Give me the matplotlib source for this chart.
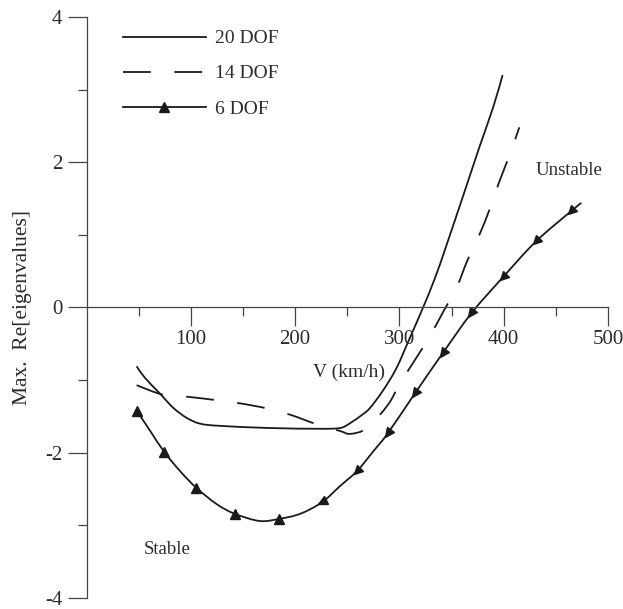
import matplotlib
matplotlib.use("Agg")
import matplotlib.pyplot as plt
import numpy as np
from matplotlib.markers import MarkerStyle
from matplotlib.transforms import Affine2D
from matplotlib.lines import Line2D
from matplotlib.path import Path
from matplotlib.patches import PathPatch

plt.rcParams['font.family'] = ['Liberation Serif', 'DejaVu Serif']
plt.rcParams['axes.unicode_minus'] = False
plt.rcParams['lines.scale_dashes'] = False

# max real part of the eigenvalues vs. speed, three model sizes
v_20 = [48, 56, 70, 83, 96, 109, 128, 176, 224, 243, 252, 265, 272, 284, 297,
        310, 323, 334, 345, 364, 377, 390, 399]
re_20 = [-0.81, -0.97, -1.18, -1.38, -1.52, -1.60, -1.63, -1.66, -1.67, -1.66,
         -1.60, -1.47, -1.38, -1.15, -0.84, -0.42, 0.01, 0.40, 0.85, 1.66, 2.22,
         2.76, 3.20]

v_14 = [48, 73, 97, 121, 147, 173, 196, 221, 243, 253, 269, 289, 300, 315,
        329, 342, 355, 365, 377, 387, 396, 406, 415]
re_14 = [-1.07, -1.20, -1.23, -1.27, -1.32, -1.39, -1.48, -1.61, -1.70, -1.74,
         -1.66, -1.34, -1.06, -0.72, -0.40, -0.06, 0.28, 0.64, 1.01, 1.37, 1.74,
         2.11, 2.48]

v_6 = [48.5, 61, 74.5, 89.5, 105, 125, 142, 166, 185, 205, 226, 243, 259.5,
       275, 289, 315, 342, 369, 399.5, 431, 465, 474.5]
re_6 = [-1.43, -1.70, -1.99, -2.25, -2.48, -2.71, -2.84, -2.94, -2.91, -2.84,
        -2.68, -2.46, -2.25, -1.98, -1.73, -1.18, -0.62, -0.08, 0.42, 0.91,
        1.33, 1.44]
marks_6 = [0, 2, 4, 6, 8, 10, 12, 14, 15, 16, 17, 18, 19, 20]

labels = ['20 DOF', '14 DOF', '6 DOF']

ink = '#1a1a1a'
txt = '#2b2b2b'
fs = 14
dash = (0, (20, 17))


def smooth_path(x, y):
    # cubic bezier pieces through every point (catmull-rom tangents)
    p = np.column_stack([x, y]).astype(float)
    ext = np.vstack([p[0], p, p[-1]])
    verts = [p[0]]
    codes = [Path.MOVETO]
    for i in range(len(p) - 1):
        p0, p1, p2, p3 = ext[i], ext[i + 1], ext[i + 2], ext[i + 3]
        verts += [p1 + (p2 - p0) / 6, p2 - (p3 - p1) / 6, p2]
        codes += [Path.CURVE4] * 3
    return Path(verts, codes)


fig = plt.figure(figsize=(6.23, 6.09), dpi=100)
ax = fig.add_axes([0.139, 0.0181, 0.8368, 0.954])
ax.set_xlim(0, 500)
ax.set_ylim(-4, 4)

ax.add_patch(PathPatch(smooth_path(v_20, re_20), fill=False, ec=ink, lw=1.3))
ax.add_patch(PathPatch(smooth_path(v_14, re_14), fill=False, ec=ink, lw=1.3,
                       linestyle=dash))
ax.add_patch(PathPatch(smooth_path(v_6, re_6), fill=False, ec=ink, lw=1.3))

# triangles on the 6 DOF curve; on the rising branch they point back along the line
pts = ax.transData.transform(np.column_stack([v_6, re_6]))
prev_y = None
for i in marks_6:
    rot = 0
    if prev_y is not None and re_6[i] > prev_y:
        d = pts[i - 1] - pts[i]
        rot = np.degrees(np.arctan2(d[1], d[0])) - 90
    prev_y = re_6[i]
    m = MarkerStyle('^', transform=Affine2D().rotate_deg(rot))
    ax.plot(v_6[i], re_6[i], linestyle='none', marker=m, ms=6.5,
            color=ink, mec=ink)

for s in ['top', 'right']:
    ax.spines[s].set_visible(False)
ax.spines['bottom'].set_position(('data', 0))
for s in ['left', 'bottom']:
    ax.spines[s].set_color('#444444')
    ax.spines[s].set_linewidth(0.9)

ax.set_xticks([100, 200, 300, 400, 500])
ax.set_xticks([50, 150, 250, 350, 450], minor=True)
ax.set_yticks([-4, -2, 0, 2, 4])
ax.set_yticks([-3, -1, 1, 3], minor=True)
ax.tick_params(which='major', length=13.5, width=0.9, color='#444444',
               labelsize=15, labelcolor=txt, pad=4)
ax.tick_params(which='minor', length=6.8, width=0.9, color='#444444')
ax.tick_params(axis='x', which='major', pad=3)

ax.set_xlabel('V (km/h)', fontsize=fs, color=txt)
ax.xaxis.set_label_coords(0.503, 0.404)
ax.set_ylabel('Max.  Re[eigenvalues]', fontsize=15.5, color=txt)
ax.yaxis.set_label_coords(-0.105, 0.5)

ax.text(463, 1.88, 'Unstable', fontsize=13.5, color=txt, ha='center', va='center')
ax.text(77.5, -3.33, 'Stable', fontsize=13.5, color=txt, ha='center', va='center')

handles = [
    Line2D([], [], color=ink, lw=1.3),
    Line2D([], [], color=ink, lw=1.3, linestyle=dash),
    Line2D([], [], color=ink, lw=1.3, marker='^', ms=6.5),
]
ax.legend(handles, labels, loc='upper left', bbox_to_anchor=(0.0696, 0.978),
          frameon=False, fontsize=fs, borderpad=0, borderaxespad=0,
          handlelength=4.28, handletextpad=0.46, labelspacing=0.9,
          labelcolor=txt)

fig.savefig('out.png', dpi=100)
